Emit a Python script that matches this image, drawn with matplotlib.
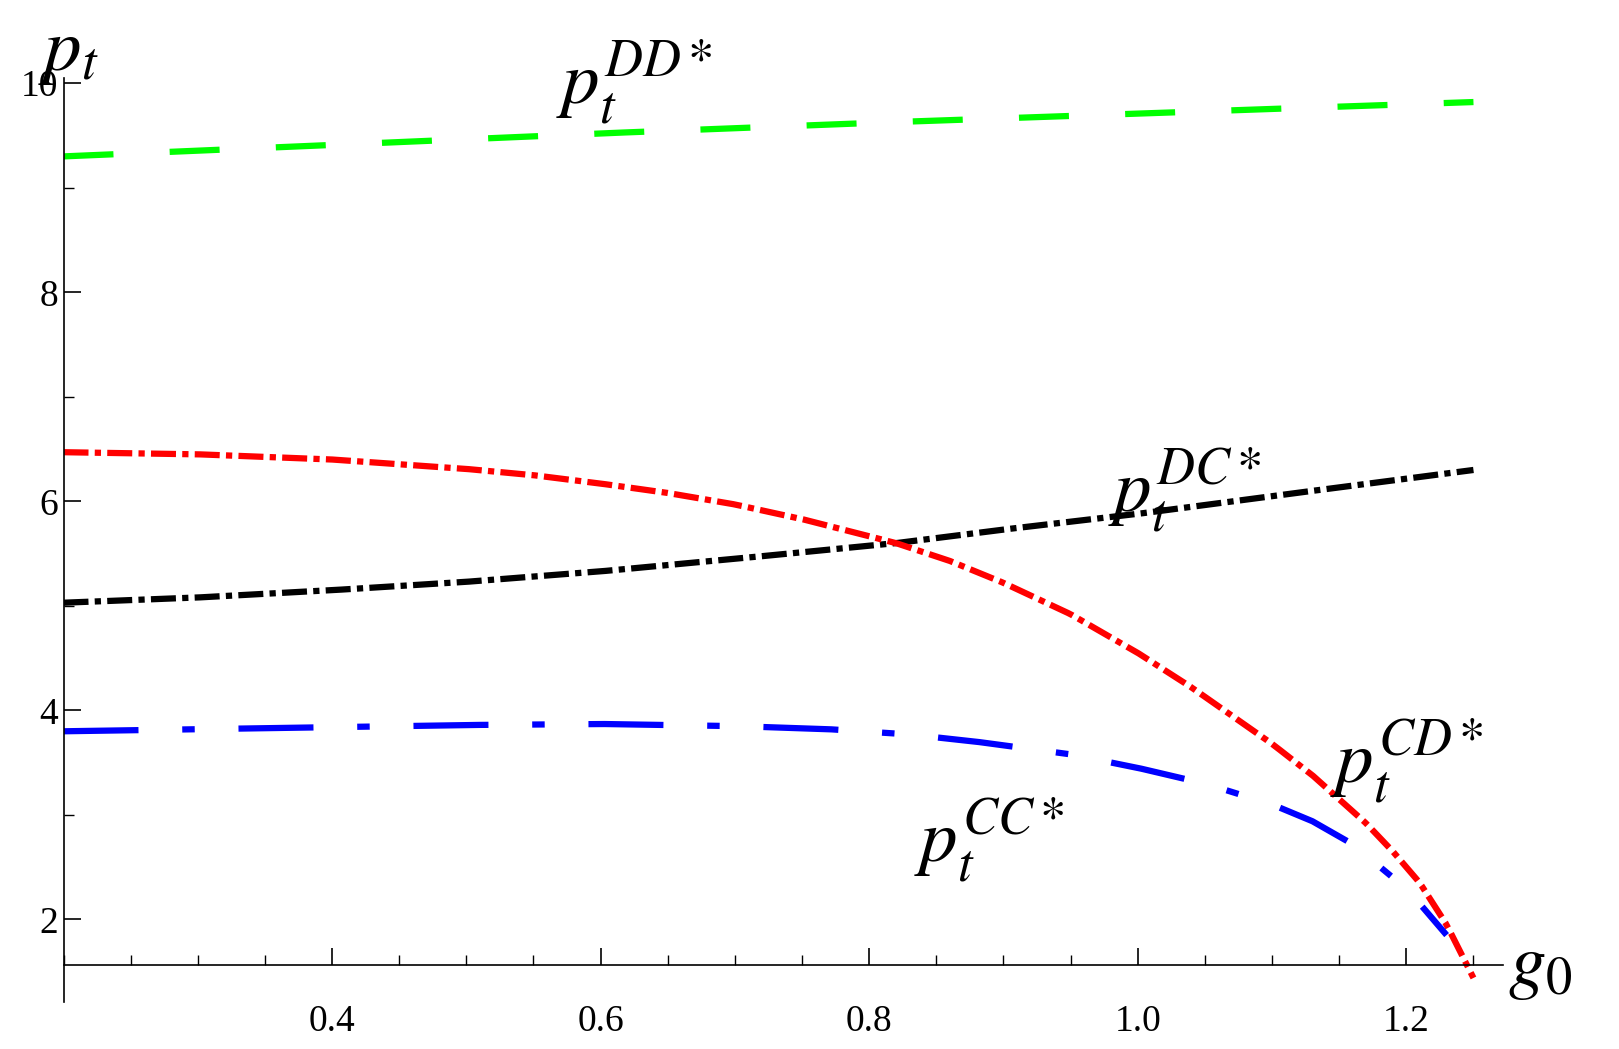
import numpy as np
import matplotlib.pyplot as plt
from matplotlib.ticker import MultipleLocator

plt.rcParams['font.family'] = 'Liberation Serif'
plt.rcParams['mathtext.fontset'] = 'stix'

# values
g_dd = [0.2, 0.4, 0.6, 0.8, 1.0, 1.25]
p_dd = [9.30, 9.41, 9.52, 9.62, 9.71, 9.82]

g_dc = [0.2, 0.3, 0.4, 0.5, 0.6, 0.7, 0.82, 0.9, 1.0, 1.1, 1.25]
p_dc = [5.03, 5.08, 5.15, 5.23, 5.33, 5.45, 5.60, 5.73, 5.88, 6.05, 6.30]

g_cd = [0.2, 0.3, 0.4, 0.5, 0.55, 0.6, 0.65, 0.7, 0.75, 0.82, 0.86, 0.9, 0.95,
        1.0, 1.04, 1.07, 1.1, 1.13, 1.15, 1.17, 1.19, 1.21, 1.23, 1.25]
p_cd = [6.47, 6.45, 6.40, 6.31, 6.25, 6.17, 6.08, 5.97, 5.83, 5.60, 5.43, 5.22, 4.92,
        4.55, 4.22, 3.95, 3.68, 3.38, 3.15, 2.92, 2.65, 2.35, 1.95, 1.44]

g_cc = [0.2, 0.3, 0.4, 0.5, 0.6, 0.7, 0.77, 0.83, 0.88, 0.95, 1.0, 1.05, 1.1,
        1.13, 1.16, 1.19, 1.21, 1.23]
p_cc = [3.80, 3.82, 3.84, 3.86, 3.87, 3.85, 3.82, 3.77, 3.70, 3.58, 3.45, 3.30, 3.10,
        2.94, 2.72, 2.40, 2.15, 1.85]

def smooth(x, y, n=300):
    xs = np.linspace(x[0], x[-1], n)
    return xs, np.interp(xs, x, y)

fig = plt.figure(figsize=(16.19, 10.49), dpi=100)
ax = fig.add_axes([63.5 / 1619, 1 - 1002 / 1049, (1503 - 63.5) / 1619, (1002 - 78) / 1049])
ax.set_xlim(0.2, 1.272)
ax.set_ylim(1.21, 10.05)

lw = 4.5
ax.plot(*smooth(g_dd, p_dd), color='#00ff00', lw=lw, dashes=(8, 9), solid_capstyle='butt')
ax.plot(*smooth(g_dc, p_dc), color='black', lw=lw, dashes=(4, 1, 1, 1))
ax.plot(*smooth(g_cd, p_cd), color='red', lw=lw, dashes=(4, 1, 1, 1))
ax.plot(*smooth(g_cc, p_cc), color='blue', lw=lw, dashes=(12, 7, 2, 7))

for sp in ['top', 'right']:
    ax.spines[sp].set_visible(False)
ax.spines['bottom'].set_position(('data', 1.56))
ax.spines['left'].set_linewidth(1.2)
ax.spines['bottom'].set_linewidth(1.2)

ax.xaxis.set_major_locator(MultipleLocator(0.2))
ax.xaxis.set_minor_locator(MultipleLocator(0.05))
ax.yaxis.set_major_locator(MultipleLocator(2))
ax.yaxis.set_minor_locator(MultipleLocator(1))
ax.tick_params(which='major', direction='in', length=12, width=1.2, labelsize=27)
ax.tick_params(which='minor', direction='in', length=7, width=1.0)
ax.tick_params(axis='x', pad=28)
ax.tick_params(axis='y', pad=4)
ax.set_xticks([0.4, 0.6, 0.8, 1.0, 1.2])
ax.set_xticklabels(['0.4', '0.6', '0.8', '1.0', '1.2'])
ax.set_yticks([2, 4, 6, 8, 10])
ax.set_yticklabels(['2', '4', '6', '8', '10'])

fs = 54
ax.text(0.567, 9.8, r'$p_t^{DD*}$', fontsize=fs)
ax.text(0.978, 5.9, r'$p_t^{DC*}$', fontsize=fs)
ax.text(1.143, 3.3, r'$p_t^{CD*}$', fontsize=fs)
ax.text(0.833, 2.55, r'$p_t^{CC*}$', fontsize=fs)
fig.text(38 / 1619, 1 - 70 / 1049, r'$p_t$', fontsize=fs)
fig.text(1508 / 1619, 1 - 985 / 1049, r'$g_0$', fontsize=fs)

fig.savefig('out.png', dpi=100)
